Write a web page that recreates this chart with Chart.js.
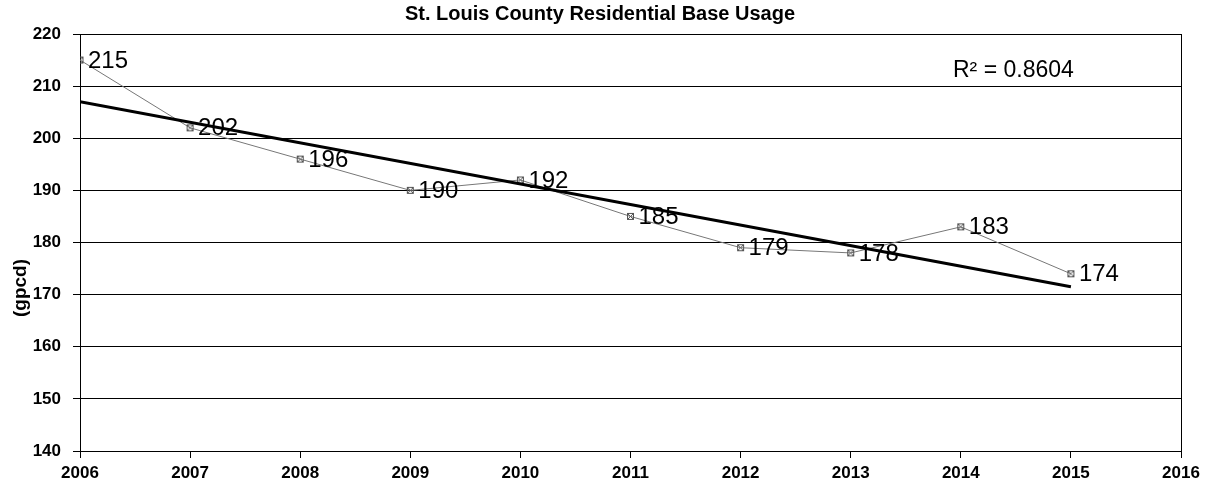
<!DOCTYPE html>
<html lang="en">
    <head>
        <title> Residential Base Usage </title>
        <script src="https://cdn.jsdelivr.net/npm/chart.js@4.4.1/dist/chart.umd.min.js"></script>
        <style>
            html, body { margin: 0; padding: 0; background: #fff; }
            #usageChart { display: block; }
        </style>
    </head>

    <body>
        <canvas id="usageChart" width="1212" height="490"></canvas>

        <script>

            const years = [2006, 2007, 2008, 2009, 2010, 2011, 2012, 2013, 2014, 2015];
            const usage = [215, 202, 196, 190, 192, 185, 179, 178, 183, 174];

            // trend line end points, and its fit
            const trendYears = [2006, 2015];
            const trendValues = [207, 171.5];
            const rSquared = '0.8604';

            const yTicks = [140, 150, 160, 170, 180, 190, 200, 210, 220];
            const xTicks = [2006, 2007, 2008, 2009, 2010, 2011, 2012, 2013, 2014, 2015, 2016];

            const FONT = '"Liberation Sans", Arial, sans-serif';

            // small boxed-x marker
            const marker = document.createElement('canvas');
            marker.width = 9;
            marker.height = 9;
            const mctx = marker.getContext('2d');
            mctx.strokeStyle = '#555';
            mctx.lineWidth = 1;
            mctx.strokeRect(1.5, 1.5, 6, 6);
            mctx.beginPath();
            mctx.moveTo(1.5, 1.5); mctx.lineTo(7.5, 7.5);
            mctx.moveTo(7.5, 1.5); mctx.lineTo(1.5, 7.5);
            mctx.stroke();

            const decorations = {
                id: 'decorations',
                afterDraw (chart) {
                    const { ctx, chartArea, scales } = chart;
                    ctx.save();

                    // right border of plot
                    ctx.strokeStyle = '#000';
                    ctx.lineWidth = 1;
                    ctx.beginPath();
                    ctx.moveTo(chartArea.right + 0.5, chartArea.top);
                    ctx.lineTo(chartArea.right + 0.5, chartArea.bottom + 7);
                    ctx.stroke();

                    // title
                    ctx.fillStyle = '#000';
                    ctx.font = 'bold 20px ' + FONT;
                    ctx.textAlign = 'center';
                    ctx.textBaseline = 'middle';
                    ctx.fillText('St. Louis County Residential Base Usage', 600, 14);

                    // value labels
                    ctx.font = '24px ' + FONT;
                    ctx.textAlign = 'left';
                    years.forEach((yr, i) => {
                        const px = scales.x.getPixelForValue(yr);
                        const py = scales.y.getPixelForValue(usage[i]);
                        ctx.fillText(String(usage[i]), px + 8, py + 1);
                    });

                    // fit statistic
                    ctx.font = '23px ' + FONT;
                    ctx.fillText('R\u00b2 = ' + rSquared, 953, 71);

                    // axis title
                    ctx.font = 'bold 19px ' + FONT;
                    ctx.translate(21, 288);
                    ctx.rotate(-Math.PI / 2);
                    ctx.textAlign = 'center';
                    ctx.fillText('(gpcd)', 0, 0);

                    ctx.restore();
                }
            };

            new Chart(document.getElementById('usageChart'), {
                type: 'scatter',
                data: {
                    datasets: [
                        {
                            label: 'Usage',
                            data: years.map((yr, i) => ({ x: yr, y: usage[i] })),
                            showLine: true,
                            borderColor: '#777',
                            borderWidth: 1,
                            pointStyle: marker,
                            pointRadius: 4,
                            order: 2
                        },
                        {
                            label: 'Trend',
                            data: trendYears.map((yr, i) => ({ x: yr, y: trendValues[i] })),
                            showLine: true,
                            borderColor: '#000',
                            borderWidth: 3,
                            pointRadius: 0,
                            order: 1
                        }
                    ]
                },
                options: {
                    responsive: false,
                    animation: false,
                    layout: { padding: { top: 34, right: 31, left: 0, bottom: 0 } },
                    plugins: {
                        legend: { display: false },
                        title: { display: false },
                        tooltip: { enabled: false }
                    },
                    scales: {
                        x: {
                            type: 'linear',
                            min: 2006,
                            max: 2016,
                            afterBuildTicks (scale) {
                                scale.ticks = xTicks.map(v => ({ value: v }));
                            },
                            afterFit (scale) { scale.height = 39; },
                            grid: {
                                drawOnChartArea: false,
                                color: '#000',
                                tickLength: 7
                            },
                            border: { color: '#000', width: 1 },
                            ticks: {
                                color: '#000',
                                font: { family: FONT, size: 17, weight: 'bold' },
                                padding: 5,
                                maxRotation: 0,
                                callback: v => String(v)
                            }
                        },
                        y: {
                            min: 140,
                            max: 220,
                            afterBuildTicks (scale) {
                                scale.ticks = yTicks.map(v => ({ value: v }));
                            },
                            afterFit (scale) { scale.width = 80; },
                            grid: {
                                color: '#000',
                                lineWidth: 1,
                                tickLength: 7
                            },
                            border: { color: '#000', width: 1 },
                            ticks: {
                                color: '#000',
                                font: { family: FONT, size: 17, weight: 'bold' },
                                padding: 12
                            }
                        }
                    }
                },
                plugins: [decorations]
            });

        </script>
    </body>
</html>
